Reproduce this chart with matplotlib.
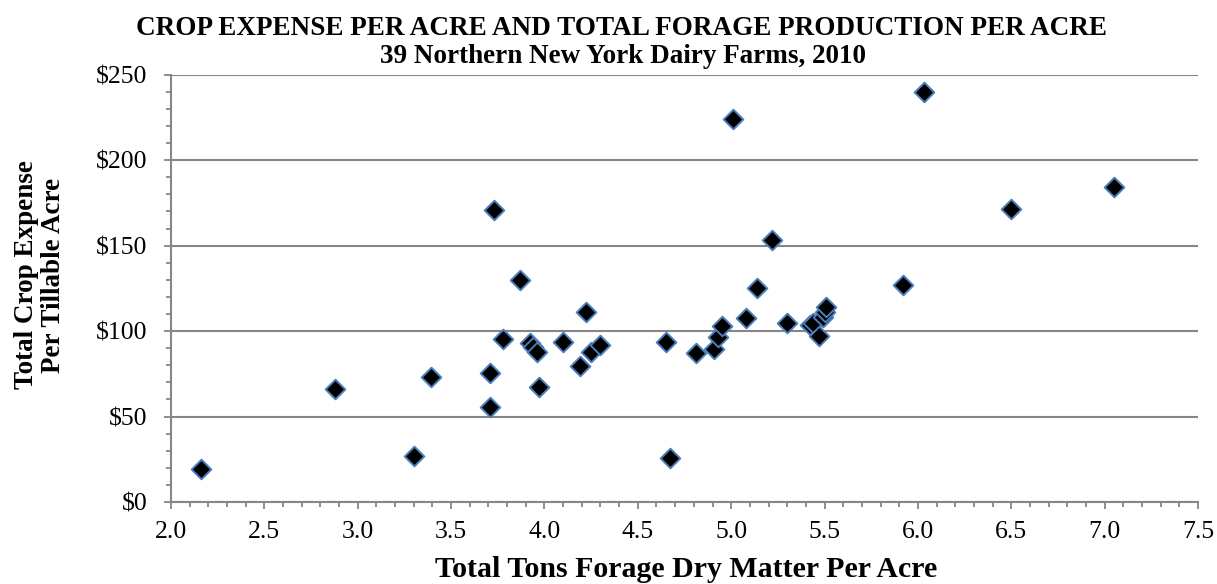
import matplotlib.pyplot as plt
from matplotlib.ticker import MultipleLocator, FuncFormatter

# tons forage dry matter per acre
forage_dm = [2.16, 2.88, 3.30, 3.39, 3.71, 3.71, 3.73, 3.78, 3.87, 3.92,
             3.94, 3.96, 3.97, 4.10, 4.19, 4.22, 4.25, 4.30, 4.65, 4.67,
             4.81, 4.91, 4.93, 4.95, 5.01, 5.08, 5.14, 5.22, 5.30, 5.42,
             5.44, 5.47, 5.49, 5.50, 5.51, 5.92, 6.03, 6.50, 7.05]
# crop expense per tillable acre ($)
crop_expense = [19.1, 66.1, 26.7, 73.3, 75.7, 55.8, 170.9, 95.4, 129.9, 93.2,
                90.5, 87.6, 67.5, 93.4, 79.6, 111.0, 87.9, 91.9, 93.4, 25.6,
                87.0, 89.5, 96.4, 103.2, 223.9, 107.9, 125.4, 153.3, 104.5, 103.5,
                104.5, 97.3, 108.4, 111.0, 114.3, 127.0, 240.1, 171.3, 184.5]

plt.rcParams['font.family'] = ['Liberation Serif', 'DejaVu Serif']

W, H = 1217, 584
fig = plt.figure(figsize=(W / 100, H / 100), dpi=100)
ax = fig.add_axes([171 / W, 1 - 502 / H, 1027 / W, 427.3 / H])

ax.scatter(forage_dm, crop_expense, marker='D', s=100, c='black',
           edgecolors='#4a7ebb', linewidths=1.4, zorder=3)

ax.set_xlim(2.0, 7.5)
ax.set_ylim(0, 250)
ax.xaxis.set_major_locator(MultipleLocator(0.5))
ax.xaxis.set_minor_locator(MultipleLocator(0.1))
ax.yaxis.set_major_locator(MultipleLocator(50))
ax.yaxis.set_minor_locator(MultipleLocator(10))
ax.xaxis.set_major_formatter(FuncFormatter(lambda v, p: f'{v:.1f}'))
ax.yaxis.set_major_formatter(FuncFormatter(lambda v, p: f'${v:.0f}'))

ax.grid(axis='y', which='major', color='#868686', linewidth=1.5, zorder=0)
for side in ['top', 'right']:
    ax.spines[side].set_visible(False)
for side in ['left', 'bottom']:
    ax.spines[side].set_color('#868686')
    ax.spines[side].set_linewidth(1.5)

ax.tick_params(axis='both', which='both', colors='#868686', labelcolor='black',
               labelsize=18.5, width=1.3)
ax.tick_params(axis='both', which='major', length=5)
ax.tick_params(axis='both', which='minor', length=3.6)
ax.tick_params(axis='y', which='major', pad=12)
ax.tick_params(axis='x', which='major', pad=8.5)

# axis titles
fig.text(686 / W, 1 - 577 / H, 'Total Tons Forage Dry Matter Per Acre',
         ha='center', va='baseline', fontsize=21.5, fontweight='bold')
fig.text(40 / W, 1 - 275 / H, 'Total Crop Expense\nPer Tillable Acre',
         ha='center', va='center', rotation=90, multialignment='center',
         fontsize=19.5, fontweight='bold', linespacing=1.15)

# chart title
fig.text(621 / W, 1 - 35 / H, 'CROP EXPENSE PER ACRE AND TOTAL FORAGE PRODUCTION PER ACRE',
         ha='center', va='baseline', fontsize=19.5, fontweight='bold')
fig.text(623 / W, 1 - 63 / H, '39 Northern New York Dairy Farms, 2010',
         ha='center', va='baseline', fontsize=19.5, fontweight='bold')

fig.savefig('out.png', dpi=100)
